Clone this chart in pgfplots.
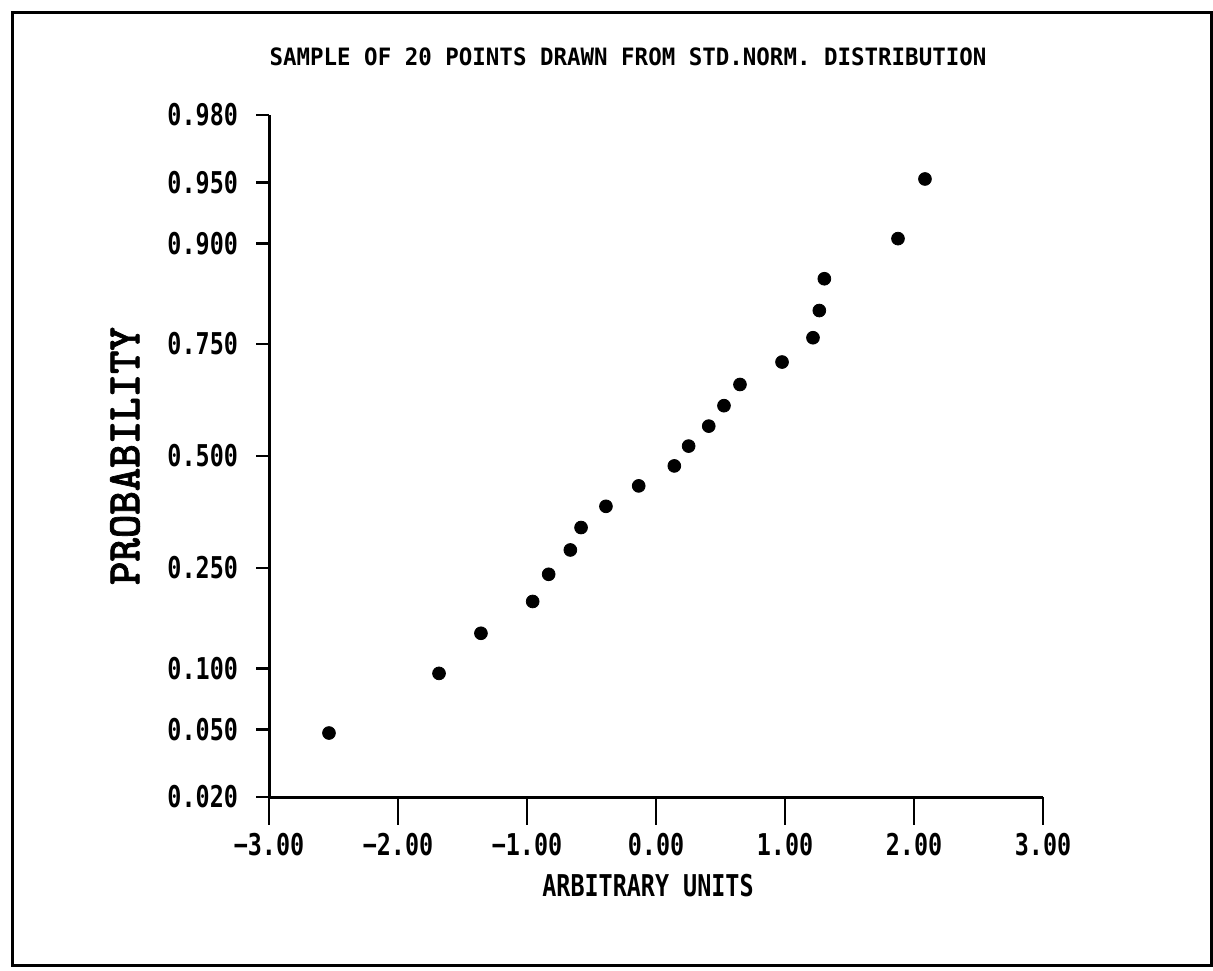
\documentclass[border=0pt]{standalone}
\usepackage{fontspec}
\usepackage{pgfplots}
\pgfplotsset{compat=1.18}
\setmainfont{DejaVu Sans Mono}
\newfontfamily\tickfont{DejaVu Sans Mono}[FakeStretch=0.78]
\newfontfamily\titlefont{DejaVu Sans Mono}[FakeStretch=0.94]
\newfontfamily\ylabfont{lmmonolt10-bold.otf}[FakeStretch=0.95, FakeBold=1.5]

% probit scale: y = inverse normal of plotting position i/21
\pgfplotstableread{
x       y
-2.535  -1.6684
-1.682  -1.3092
-1.357  -1.0676
-0.956  -0.8761
-0.832  -0.7124
-0.664  -0.5659
-0.581  -0.4307
-0.388  -0.3030
-0.134  -0.1800
 0.142  -0.0597
 0.253   0.0597
 0.409   0.1800
 0.527   0.3030
 0.651   0.4307
 0.977   0.5659
 1.217   0.7124
 1.266   0.8761
 1.305   1.0676
 1.876   1.3092
 2.085   1.6684
}\sample

\pgfplotsset{
  frame/.style={
    at={(134.5pt,86.5pt)}, anchor=south west,
    scale only axis, width=387pt, height=341pt,
    xmin=-3, xmax=3, ymin=-2.0537, ymax=2.0537,
    axis line style={-, line width=1.5pt},
    tick style={black, line width=1.4pt},
    ticklabel style={font=\tickfont\bfseries\fontsize{15}{15}\selectfont},
    clip=false,
  }
}

\begin{document}
\begin{tikzpicture}[x=1pt,y=1pt]
\useasboundingbox (0,0) rectangle (606.5,485);
\draw[line width=1.5pt] (6,2.5) rectangle (605.5,478.5);

% x axis
\begin{axis}[frame,
  axis x line*=bottom, axis y line=none,
  tick align=outside,
  xtick={-3,-2,-1,0,1,2,3},
  xticklabels={−3.00,−2.00,−1.00,0.00,1.00,2.00,3.00},
  xticklabel style={yshift=-10.5pt},
]
\end{axis}

% y axis and data
\begin{axis}[frame,
  axis y line*=left, axis x line=none,
  tick align=outside,
  major tick length=6.5pt,
  ytick={-2.0537,-1.6449,-1.2816,-0.6745,0,0.6745,1.2816,1.6449,2.0537},
  yticklabels={0.020,0.050,0.100,0.250,0.500,0.750,0.900,0.950,0.980},
  yticklabel style={xshift=-5.5pt},
]
\addplot[only marks, mark=*, mark size=3.2pt, black] table[x=x,y=y] {\sample};
\end{axis}

% long downward x ticks (axis spans 134.5pt..521.5pt, 64.5pt per unit)
\foreach \i in {0,...,6}
  \draw[line width=1.4pt] ({134.5+64.5*\i},86.5) -- ++(0,-14);

\node[font=\titlefont\bfseries\fontsize{11.95}{12}\selectfont] at (314,456.5)
  {SAMPLE OF 20 POINTS DRAWN FROM STD.NORM. DISTRIBUTION};
\node[font=\tickfont\bfseries\fontsize{15}{15}\selectfont] at (324,42)
  {ARBITRARY UNITS};
\node[rotate=90, font=\ylabfont\fontsize{23.5}{24}\selectfont] at (62.5,257)
  {PROBABILITY};
\end{tikzpicture}
\end{document}
